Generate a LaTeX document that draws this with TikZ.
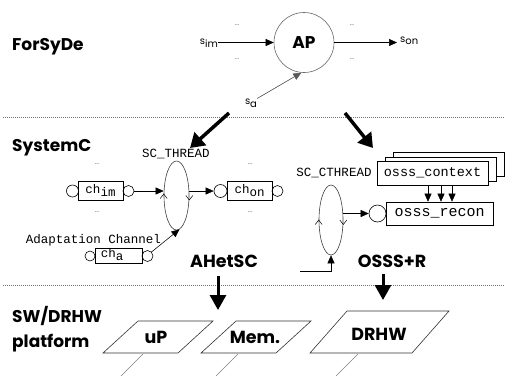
\documentclass[tikz,border=0pt]{standalone}
\usepackage{fontspec}
\setmainfont{Poppins}
\setmonofont{Liberation Mono}
\usetikzlibrary{shapes.geometric,arrows.meta}
\tikzset{
  head/.style={font=\bfseries\fontsize{17}{19}\selectfont, anchor=base west, inner sep=0pt},
  big/.style={font=\bfseries\fontsize{17.5}{19}\selectfont, inner sep=0pt},
  sig/.style={font=\fontsize{10}{11}\selectfont, inner sep=0pt},
  dotsn/.style={font=\fontsize{7}{7}\selectfont, text=black!60, inner sep=0pt},
  code/.style={font=\ttfamily\fontsize{12.5}{13}\selectfont, inner sep=0pt},
  chbox/.style={draw, line width=0.6pt, inner sep=0pt},
  port/.style={circle, draw, line width=0.6pt, inner sep=0pt},
  proc/.style={ellipse, draw=black!75, line width=0.6pt, inner sep=0pt},
  arr/.style={line width=0.55pt, -{Triangle[length=8pt,width=7pt]}},
  fat/.style={line width=3.5pt, -{Triangle[length=14pt,width=17pt]}},
  fatb/.style={line width=3pt, -{Triangle[length=15pt,width=16pt]}},
  sepline/.style={black!55, line width=0.7pt, dash pattern=on 0.8pt off 1.2pt},
  para/.style={draw=black!80, line width=0.6pt},
  tail/.style={draw=black!50, line width=0.6pt},
  chev/.style={line width=0.5pt}
}
\begin{document}
\begin{tikzpicture}[x=1pt,y=-1pt]
\useasboundingbox (0,0) rectangle (505,376);

% separators
\draw[sepline] (3,117.5) -- (505,117.5);
\draw[sepline] (3,285.5) -- (505,285.5);

% headings
\node[head] (forsyde) at (12,50) {ForSyDe};
\node[head] (systemc) at (12,151) {SystemC};
\node[head] (swdrhw) at (12,322) {SW/DRHW};
\node[head] (platform) at (12,347) {platform};

% ForSyDe process
\node[circle, draw=black!60, line width=0.6pt, minimum size=60pt, inner sep=0pt,
      font=\bfseries\fontsize{17}{18}\selectfont] (ap) at (304,42.5) {AP};
\node[sig, anchor=east] (sim) at (218,43) {s\raisebox{-3pt}{im}};
\draw[arr] (sim.east |- ap.west) -- (ap.west);
\node[sig, anchor=west] (son) at (400,41) {s\raisebox{-2pt}{on}};
\draw[arr, shorten >=3pt] (ap.east) -- (son.west |- ap.east);
\node[sig] (sa) at (251,103) {s\raisebox{-3pt}{a}};
\draw[arr, draw=black!65, fill=black] (sa.north east) -- (ap.265);
\node[dotsn] (d1) at (237,25) {...};
\node[dotsn] (d2) at (237,59) {...};
\node[dotsn] (d3) at (352,25) {...};
\node[dotsn] (d4) at (352,59) {...};

% big arrows between levels
\coordinate (t1s) at (229,113);
\coordinate (t1e) at (190,148);
\coordinate (t2s) at (345,113);
\coordinate (t2e) at (373,148);
\draw[fat] (t1s) -- (t1e);
\draw[fat] (t2s) -- (t2e);

% SystemC thread
\node[code] (sct) at (176,154) {SC\_THREAD};
\node[proc, minimum width=25pt, minimum height=69pt] (th) at (176.5,195.5) {};
\draw[chev] ([shift={(-3.5,3)}]th.west) -- ([shift={(0,-1.5)}]th.west) -- ([shift={(3.5,3)}]th.west);
\draw[chev] ([shift={(-3.5,0)}]th.east) -- ([shift={(0,4.5)}]th.east) -- ([shift={(3.5,0)}]th.east);

\node[chbox, minimum width=45pt, minimum height=19pt, code] (chim) at (100.5,190.5) {ch\raisebox{-3pt}{im}};
\node[port, minimum size=12pt] (chiml) at (72.5,191) {};
\node[port, minimum size=11pt] (chimr) at (128.5,191) {};
\draw[arr] (chimr.east) -- (th.west |- chimr.east);

\node[chbox, minimum width=45pt, minimum height=19pt, code] (chon) at (249.5,190.5) {ch\raisebox{-3pt}{on}};
\node[port, minimum size=13pt] (chonl) at (220.5,191) {};
\node[port, minimum size=11pt] (chonr) at (277.5,191) {};
\draw[arr] (th.east |- chonl.west) -- (chonl.west);

\node[dotsn] (d5) at (97,164) {...};
\node[dotsn] (d6) at (97,212) {...};
\node[dotsn] (d7) at (250,164) {...};
\node[dotsn] (d8) at (250,212) {...};

\node[code] (adapt) at (93.5,240) {Adaptation Channel};
\node[chbox, minimum width=47pt, minimum height=15pt] (cha) at (118.5,255.5) {};
\node[code] (chatext) at (112,255) {ch\raisebox{-3pt}{a}};
\node[port, minimum size=10pt] (chal) at (90,256) {};
\node[port, minimum size=11pt] (char) at (147.5,256) {};
\draw[arr] (char.north east) -- (th.-85);

% OSSS+R
\node[code] (scct) at (334,173) {SC\_CTHREAD};
\node[proc, minimum width=24pt, minimum height=70pt] (cth) at (331,220) {};
\draw[chev] ([shift={(-3.5,4.5)}]cth.west) -- ([shift={(0,0)}]cth.west) -- ([shift={(3.5,4.5)}]cth.west);
\draw[chev] ([shift={(-3.5,0)}]cth.east) -- ([shift={(0,4.5)}]cth.east) -- ([shift={(3.5,0)}]cth.east);

\node[chbox, fill=white, minimum width=111pt, minimum height=24pt] (ctx3) at (448.5,164.5) {};
\node[chbox, fill=white, minimum width=111pt, minimum height=24pt] (ctx2) at (440.5,168.8) {};
\node[chbox, fill=white, minimum width=111pt, minimum height=24pt, code, font=\ttfamily\fontsize{13.5}{14}\selectfont] (ctx) at (432.5,173) {osss\_context};
\node[chbox, minimum width=107pt, minimum height=23pt, code, font=\ttfamily\fontsize{15}{15}\selectfont] (rec) at (439.5,213.5) {osss\_recon};
\node[port, minimum size=17pt] (recc) at (377.5,213.5) {};
\draw[arr] ([xshift=-4.5pt]ctx.south) -- ([xshift=-4.5pt]ctx.south |- rec.north);
\draw[arr] ([xshift=8.5pt]ctx.south) -- ([xshift=8.5pt]ctx.south |- rec.north);
\draw[arr] ([xshift=19.5pt]ctx.south) -- ([xshift=19.5pt]ctx.south |- rec.north);
\draw[arr] (cth.east |- recc.west) -- (recc.west);
\coordinate (lstart) at (300,271);
\draw[arr] (lstart) -| (cth.south);

% library labels
\node[big] (ahetsc) at (224,261) {AHetSC};
\node[big] (osssr) at (392,261) {OSSS+R};
\coordinate (a1s) at (218,276);
\coordinate (a1e) at (218,310);
\coordinate (a2s) at (383,274);
\coordinate (a2e) at (383,300);
\draw[fatb] (a1s) -- (a1e);
\draw[fatb] (a2s) -- (a2e);

% platform
\draw[para] (103,353) -- (138,321) -- (213,321) -- (178,353) -- cycle;
\node[big] (up) at (156,337) {uP};
\draw[para] (201,353) -- (236,321) -- (311,321) -- (276,353) -- cycle;
\node[big] (mem) at (255,337) {Mem.};
\draw[para] (310,353) -- (347,311) -- (449,311) -- (412,353) -- cycle;
\node[big] (drhw) at (379,334) {DRHW};
\draw[tail] (143,354) -- (121,376);
\draw[tail] (238,354) -- (216,376);
\draw[tail] (358,354) -- (336,376);
\end{tikzpicture}
\end{document}
